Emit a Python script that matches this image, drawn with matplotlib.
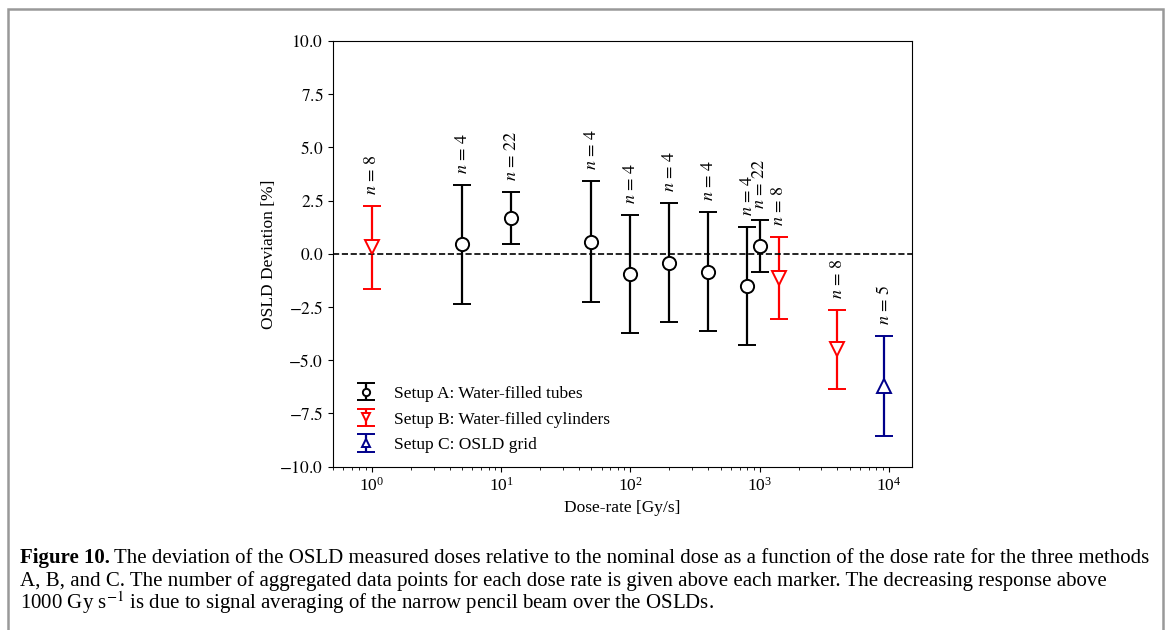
import numpy as np
import matplotlib
matplotlib.use('Agg')
import matplotlib.pyplot as plt
from matplotlib.patches import Rectangle

plt.rcParams['font.family'] = ['Liberation Serif', 'DejaVu Serif']
plt.rcParams['mathtext.fontset'] = 'stix'

# Setup A: water-filled tubes
rate_a = [5, 12, 50, 100, 200, 400, 800, 1000]
dev_a = [0.45, 1.68, 0.58, -0.95, -0.42, -0.83, -1.52, 0.37]
err_a = [2.80, 1.22, 2.82, 2.78, 2.80, 2.78, 2.78, 1.21]
n_a = [4, 22, 4, 4, 4, 4, 4, 22]

# Setup B: water-filled cylinders
rate_b = [1, 1400, 4000]
dev_b = [0.30, -1.12, -4.48]
err_b = [1.93, 1.92, 1.85]
n_b = [8, 8, 8]

# Setup C: OSLD grid
rate_c = [9200]
dev_c = [-6.21]
err_c = [2.36]
n_c = [5]

fig = plt.figure(figsize=(11.7, 6.3), dpi=100)
ax = fig.add_axes([0.2846, 0.2592, 0.4946, 0.6757])

style = dict(fmt='', ls='none', capsize=6.5, elinewidth=1.6, capthick=1.6,
             markersize=9.5, markerfacecolor='white', markeredgewidth=1.4)
ax.errorbar(rate_a, dev_a, yerr=err_a, marker='o', color='black',
            label='Setup A: Water-filled tubes', **style)
ax.errorbar(rate_b, dev_b, yerr=err_b, marker='v', color='red',
            label='Setup B: Water-filled cylinders', **style)
ax.errorbar(rate_c, dev_c, yerr=err_c, marker='^', color='darkblue',
            label='Setup C: OSLD grid', **style)

# n labels above each error bar
for rates, devs, errs, ns in [(rate_a, dev_a, err_a, n_a),
                              (rate_b, dev_b, err_b, n_b),
                              (rate_c, dev_c, err_c, n_c)]:
    for r, d, e, n in zip(rates, devs, errs, ns):
        ax.annotate('$n\\,=\\,%d$' % n, (r, d + e), xytext=(0, 8),
                    textcoords='offset points', rotation=90,
                    ha='center', va='bottom', fontsize=13)

ax.axhline(0, color='black', ls='--', lw=1.2)
ax.set_xscale('log')
ax.set_xlim(0.5, 15000)
ax.set_ylim(-10, 10)
ax.set_yticks(np.arange(-10, 10.1, 2.5))
ax.yaxis.set_major_formatter(matplotlib.ticker.FuncFormatter(
    lambda v, p: '$%.1f$' % v))
ax.tick_params(labelsize=12.5)
ax.set_xlabel('Dose-rate [Gy/s]', fontsize=12.5)
ax.set_ylabel('OSLD Deviation [%]', fontsize=12.5, labelpad=2)
ax.legend(loc='lower left', frameon=False, fontsize=12.5, markerscale=0.55,
          bbox_to_anchor=(0.0, -0.005), handletextpad=0.6, labelspacing=0.55)

# outer frame of the figure panel
fig.patches.append(Rectangle((8 / 1170, -0.05), 1155 / 1170, 1.035,
                             transform=fig.transFigure, fill=False,
                             edgecolor='#999999', lw=1.8))

# caption
cap_size = 15
lines = ['The deviation of the OSLD measured doses relative to the nominal dose as a function of the dose rate for the three methods',
         'A, B, and C. The number of aggregated data points for each dose rate is given above each marker. The decreasing response above',
         '1000 Gy s$^{-1}$ is due to signal averaging of the narrow pencil beam over the OSLDs.']
bold = fig.text(20 / 1170, 1 - 563 / 630, 'Figure 10.', fontsize=cap_size,
                fontweight='bold', va='baseline')
fig.canvas.draw()
bb = bold.get_window_extent()
fig.text((bb.x1 + 4) / 1170, 1 - 563 / 630, lines[0], fontsize=cap_size, va='baseline')
fig.text(20 / 1170, 1 - 586 / 630, lines[1], fontsize=cap_size, va='baseline')
fig.text(20 / 1170, 1 - 609 / 630, lines[2], fontsize=cap_size, va='baseline')

fig.savefig('out.png', dpi=100)
